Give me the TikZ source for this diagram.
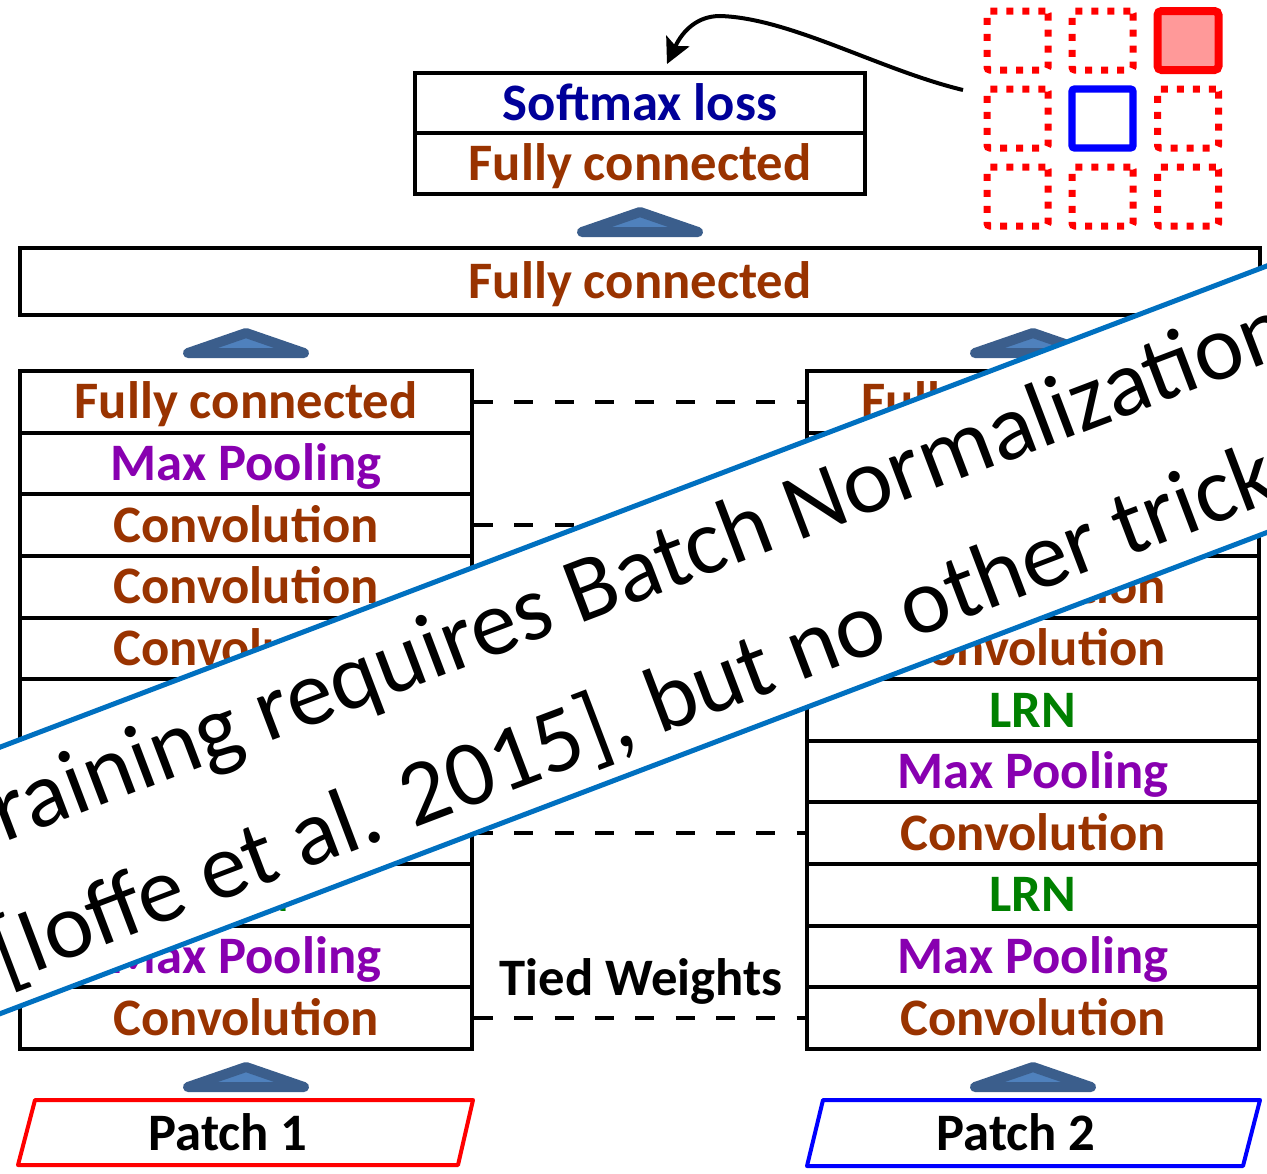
\documentclass[tikz,border=0pt]{standalone}
\usepackage{fontspec}
\setmainfont{Carlito}
\usetikzlibrary{arrows.meta,calc}
\definecolor{brn}{HTML}{993300}
\definecolor{pur}{HTML}{8800B0}
\definecolor{grn}{HTML}{008000}
\definecolor{nvy}{HTML}{000099}
\definecolor{chevd}{HTML}{3B5E8C}
\definecolor{chevl}{HTML}{4F81BD}
\definecolor{bnr}{HTML}{0070C0}
\definecolor{lpink}{HTML}{FF9999}
\begin{document}
\begin{tikzpicture}[x=0.75pt,y=-0.75pt,
  lbl/.style={inner sep=0pt, text height=25.5pt, text depth=0pt, font=\fontsize{39.5}{47}\selectfont\bfseries},
  layer/.style={lbl, draw=black, line width=3pt, fill=white, minimum width=339pt, minimum height=46.23pt},
  chev/.pic={\filldraw[draw=chevd, fill=chevl, line width=7.5pt, line join=round] (-58,0) -- (0,-20) -- (58,0) -- cycle;},
  tied/.style={line width=3pt, dash pattern=on 14.25pt off 16pt},
  dotsq/.style={draw=red, line width=5.25pt, dash pattern=on 5.25pt off 6.75pt, rounded corners=2pt, minimum width=45.75pt, minimum height=44.25pt, inner sep=0pt},
  patchline/.style={line width=3pt, line join=round},
  bannertext/.style={rotate=20.8, anchor=base, inner sep=0pt, font=\fontsize{70}{80}\selectfont}
]
\useasboundingbox (0,0) rectangle (1267,1174);
\clip (0,0) rectangle (1267,1174);
\fill[white] (0,0) rectangle (1267,1174);

% top box
\node[layer, minimum width=337.5pt, minimum height=45.75pt, text=nvy] (sm) at (640,103) {Softmax loss};
\node[layer, minimum width=337.5pt, minimum height=45.75pt, text=brn] (fc3) at (640,163.5) {Fully connected};
\pic at (640,232) {chev};

% wide FC
\node[layer, minimum width=930pt, minimum height=50.25pt, text=brn] (fc2) at (640,281.5) {Fully connected};
\pic at (246,353) {chev};
\pic at (1033,353) {chev};

% stacks
\foreach \lab/\col [count=\i] in {Fully connected/brn, Max Pooling/pur, Convolution/brn, Convolution/brn, Convolution/brn, LRN/grn, Max Pooling/pur, Convolution/brn, LRN/grn, Max Pooling/pur, Convolution/brn} {
  \node[layer, text=\col] (L\i) at (246,{371+61.636*(\i-0.5)}) {\lab};
  \node[layer, text=\col] (R\i) at (1033,{371+61.636*(\i-0.5)}) {\lab};
}

% tied weights
\draw[tied] (L1.east) -- (R1.west);
\draw[tied] (L3.east) -- (R3.west);
\draw[tied] (L8.east) -- (R8.west);
\draw[tied] (L11.east) -- (R11.west);
\node[lbl] (tw) at (641,978) {Tied Weights};

% patches
\pic at (246,1087) {chev};
\pic at (1033,1087) {chev};
\draw[patchline, red] (35,1100) -- (473,1100) -- (458,1165) -- (18,1165) -- cycle;
\node[lbl] (p1) at (228,1133) {Patch 1};
\draw[patchline, blue] (823,1100) -- (1260,1100) -- (1243,1166) -- (807,1166) -- cycle;
\node[lbl] (p2) at (1016,1133) {Patch 2};

% grid
\node[dotsq] (g11) at (1017.5,40.5) {};
\node[dotsq] (g12) at (1102.5,40.5) {};
\node[draw=red, fill=lpink, line width=6pt, rounded corners=3pt, minimum width=45.75pt, minimum height=44.25pt, inner sep=0pt] (g13) at (1188,40.5) {};
\node[dotsq] (g21) at (1017.5,118.5) {};
\node[draw=blue, fill=white, line width=5.5pt, rounded corners=2pt, minimum width=45.75pt, minimum height=44.25pt, inner sep=0pt] (g22) at (1102.5,118.5) {};
\node[dotsq] (g23) at (1188,118.5) {};
\node[dotsq] (g31) at (1017.5,196.5) {};
\node[dotsq] (g32) at (1102.5,196.5) {};
\node[dotsq] (g33) at (1188,196.5) {};

% curved arrow
\coordinate (as) at (963,90);
\coordinate (at) at (667,64);
\draw[line width=3pt, -{Stealth[length=19pt,width=19pt,inset=4pt]}] (as) .. controls (880,70) and (790,18) .. (720,16) .. controls (698,16) and (683,30) .. (at);

% banner
\node[rotate=20.8, fill=white, minimum width=1500pt, minimum height=186.5pt, inner sep=0pt] (banner) at (633,640) {};
\draw[bnr, line width=3.75pt] (banner.north west) -- (banner.north east);
\draw[bnr, line width=3.75pt] (banner.south west) -- (banner.south east);
\node[bannertext] (b1) at (632.2,603.9) {Training requires Batch Normalization};
\node[bannertext] (b2) at (660.3,734.5) {{[}Ioffe et al. 2015], but no other tricks};
\end{tikzpicture}
\end{document}
